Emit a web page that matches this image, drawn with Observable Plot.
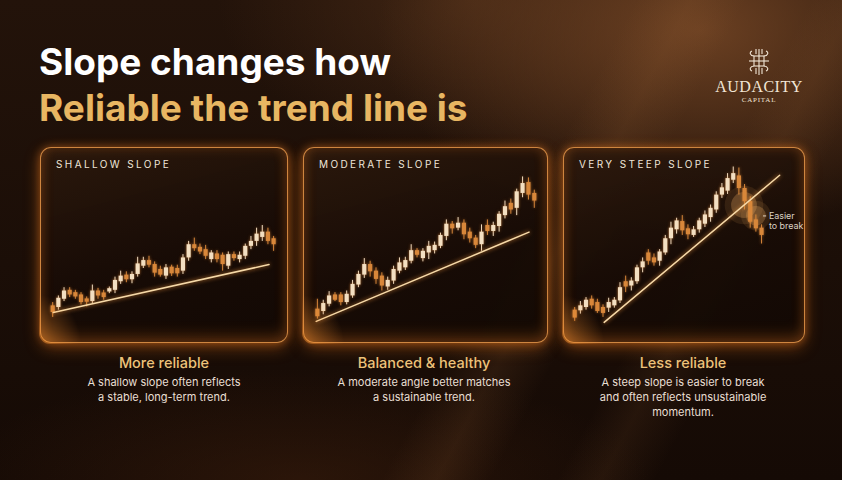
<!DOCTYPE html>
<html><head><meta charset="utf-8">
<script src="https://cdn.jsdelivr.net/npm/d3@7"></script>
<script src="https://cdn.jsdelivr.net/npm/@observablehq/plot@0.6"></script>
<style>
html,body{margin:0;padding:0;background:#1a0e07;}
#root{position:relative;width:842px;height:480px;overflow:hidden;font-family:Inter,"Open Sans",sans-serif;
background:
 linear-gradient(118deg, rgba(0,0,0,0) 58%, rgba(150,95,50,0.16) 63%, rgba(0,0,0,0) 68%, rgba(0,0,0,0) 74%, rgba(150,95,50,0.12) 78%, rgba(0,0,0,0) 83%),
 radial-gradient(ellipse 430px 270px at 700px 30px, rgba(120,72,38,0.85), rgba(120,72,38,0) 75%),
 radial-gradient(ellipse 360px 220px at 470px 0px, rgba(85,50,26,0.6), rgba(0,0,0,0) 70%),
 radial-gradient(ellipse 500px 160px at 300px 480px, rgba(70,35,14,0.45), rgba(0,0,0,0) 70%),
 linear-gradient(180deg,#23130a 0%, #1b0e07 55%, #150a05 100%);}
.title{position:absolute;left:39px;font-weight:700;font-size:37px;line-height:40px;letter-spacing:0px;white-space:nowrap;}
.panel{position:absolute;top:147px;height:196px;box-sizing:border-box;border:1.5px solid rgba(226,146,70,0.9);border-radius:11px;
 background:linear-gradient(165deg, rgba(44,25,13,0.92) 0%, rgba(24,12,6,0.95) 55%, rgba(18,9,4,0.95) 100%);
 box-shadow:0 0 9px rgba(235,125,35,0.45), 0 5px 16px rgba(240,120,25,0.38), inset 0 0 12px rgba(235,125,35,0.22), inset 0 -8px 14px rgba(235,125,35,0.2);}
.panel::after{content:"";position:absolute;left:-2px;bottom:-2px;width:70px;height:80px;border-radius:0 0 0 11px;
 background:radial-gradient(ellipse 60px 70px at 0px 80px, rgba(255,150,50,0.5), rgba(255,150,50,0) 70%);pointer-events:none;}
.panel svg{position:absolute;left:-1.5px;top:-1.5px;}
.plabel{position:absolute;left:15px;top:10px;font-size:10px;letter-spacing:2.4px;color:#efe5d8;z-index:2;white-space:nowrap;}
.cap{position:absolute;top:354px;width:270px;text-align:center;}
.cap .h{font-size:14.5px;line-height:17px;font-weight:500;color:#edc27a;}
.cap .b{margin-top:4px;font-size:11px;line-height:15px;color:#e9dfd3;}
.logo{position:absolute;left:699px;top:47px;width:120px;text-align:center;color:#f1e5d5;font-family:"Liberation Serif","DejaVu Serif",serif;}
.logo .n{font-size:16px;letter-spacing:0.5px;line-height:17px;}
.logo .c{font-size:7px;letter-spacing:0.8px;line-height:10px;}
g[aria-label="line"] path{filter:drop-shadow(0 0 2px rgba(240,150,60,0.9));}
g[aria-label="rule"] line{filter:drop-shadow(0 0 1.5px rgba(230,140,60,0.6));}
</style></head>
<body><div id="root"></div>
<script>
// ---- data ----
const titleLines = ["Slope changes how", "Reliable the trend line is"];
const panelTitles = ["SHALLOW SLOPE", "MODERATE SLOPE", "VERY STEEP SLOPE"];
const captionHeads = ["More reliable", "Balanced & healthy", "Less reliable"];
const captionBodies = [
  ["A shallow slope often reflects", "a stable, long-term trend."],
  ["A moderate angle better matches", "a sustainable trend."],
  ["A steep slope is easier to break", "and often reflects unsustainable", "momentum."]
];
// candles: [open, close, high, low]
const shallowCandles = [
 [115,95,125,80],[110,138,145,102],[135,160,170,128],[162,148,170,140],[155,142,162,135],
 [148,125,155,118],[136,126,142,112],[128,160,178,122],[160,145,168,135],[154,140,162,132],
 [157,167,172,152],[162,192,202,152],[188,205,220,180],[208,194,218,185],[194,210,218,182],
 [210,242,262,202],[235,252,262,228],[252,238,265,230],[240,214,248,202],[225,208,235,202],
 [205,230,240,195],[232,212,238,204],[228,212,238,202],[220,260,270,210],[260,300,310,250],
 [300,288,320,280],[292,278,302,270],[285,265,298,255],[255,275,282,245],[272,255,282,245],
 [268,240,275,220],[235,270,278,225],[270,258,278,250],[255,268,278,245],[265,295,302,255],
 [295,310,325,285],[310,332,350,295],[322,338,358,310],[338,310,350,300],[318,300,325,280]
];
const moderateCandles = [
 [105,82,135,75],[98,122,132,88],[120,145,158,112],[148,132,155,128],[148,125,155,115],
 [125,150,160,118],[145,180,192,138],[178,210,220,170],[208,240,258,198],[240,218,250,202],
 [220,195,230,180],[205,175,215,160],[172,192,202,162],[190,225,235,180],[220,245,260,212],
 [230,252,262,222],[250,282,300,242],[282,268,288,260],[258,280,288,248],[275,295,310,255],
 [282,298,308,272],[295,328,335,288],[325,362,375,312],[362,348,370,332],[350,365,382,342],
 [365,330,375,315],[338,318,350,305],[320,298,328,288],[300,338,360,280],[358,340,375,328],
 [340,358,368,325],[355,392,400,338],[388,415,432,378],[425,405,438,392],[410,460,468,388],
 [455,485,505,442],[488,450,502,435],[455,432,465,410]
];
const steepCandles = [
 [102,78,110,68],[100,115,128,90],[110,132,140,102],[135,115,145,105],[125,98,135,92],
 [110,92,118,80],[108,125,138,95],[115,132,140,108],[130,170,185,122],[188,172,205,155],
 [175,190,200,160],[188,230,238,180],[230,248,260,215],[275,250,285,238],[260,245,272,235],
 [250,278,285,235],[275,318,328,268],[318,350,368,300],[345,372,380,332],[370,342,388,328],
 [348,330,360,315],[328,345,355,322],[345,372,380,335],[362,390,402,352],[382,410,420,368],
 [405,450,460,395],[450,472,485,440],[462,500,515,452],[495,515,535,485],[508,470,532,450],
 [470,430,482,405],[430,368,445,350],[375,348,390,338],[350,328,360,302]
];
// trend lines: [candle index, price]
const shallowTrend = [[0.1,95],[38.2,240]];
const moderateTrend = [[-0.2,68],[36.1,338]];
const steepTrend = [[5.2,65],[36.2,510]];
// break highlight on steep panel: [index, price, radius]
const breakZones = [[29.9,420,13],[32.0,388,10]];
const breakNote = [[34.3,387,"Easier"],[34.3,357,"to break"]];
const breakDash = [[33.35,33.9,387]];

// ---- layout ----
const UP = "#f3dfc2", DOWN = "#d8873a";
const panels = [
  {left:40, width:248, ml:12.3, mr:13, candles:shallowCandles, trend:shallowTrend, cx:164},
  {left:303, width:245, ml:14, mr:12.3, candles:moderateCandles, trend:moderateTrend, cx:424},
  {left:563, width:242, ml:11.3, mr:42.3, candles:steepCandles, trend:steepTrend, cx:683, brk:true}
];
const root = document.getElementById("root");
titleLines.forEach((t,k)=>{
  const d=document.createElement("div"); d.className="title";
  d.style.top=(k?88:42)+"px"; d.style.color=k?"#e8b662":"#ffffff"; d.textContent=t; root.appendChild(d);
});
const logo=document.createElement("div"); logo.className="logo";
logo.innerHTML=`<svg width="28" height="30" viewBox="0 0 26 30" style="display:block;margin:0 auto 1px auto">
<g fill="none" stroke="#f1e5d5" stroke-width="1.1">
<rect x="8" y="9" width="10" height="10"/><line x1="13" y1="2" x2="13" y2="28"/><line x1="3" y1="14" x2="23" y2="14"/>
<path d="M8 9 C4 9 3 5 6 4 M18 9 C22 9 23 5 20 4 M8 19 C4 19 3 23 6 24 M18 19 C22 19 23 23 20 24"/>
<path d="M10 2 L10 7 M16 2 L16 7 M10 21 L10 27 M16 21 L16 27"/></g></svg>
<div class="n">AUDACITY</div><div class="c">CAPITAL</div>`;
root.appendChild(logo);

panels.forEach((p,k)=>{
  const box=document.createElement("div"); box.className="panel";
  box.style.left=p.left+"px"; box.style.width=p.width+"px";
  const lab=document.createElement("div"); lab.className="plabel"; lab.textContent=panelTitles[k]; box.appendChild(lab);
  const data=p.candles.map(([o,c,h,l],i)=>({i,o,c,h,l,col:c>=o?UP:DOWN}));
  const tr=p.trend.map(([i,v])=>({i,v}));
  const marks=[];
  if(p.brk){
    const z=breakZones.map(([i,v,r])=>({i,v,r}));
    marks.push(Plot.dot(z,{x:"i",y:"v",r:d=>d.r*1.5,fill:"#e29a50",fillOpacity:0.12,stroke:null}));
    marks.push(Plot.dot(z,{x:"i",y:"v",r:"r",fill:"#eaa862",fillOpacity:0.28,stroke:null}));
  }
  marks.push(
    Plot.ruleX(data,{x:"i",y1:"l",y2:"h",stroke:"col",strokeWidth:1}),
    Plot.ruleX(data,{x:"i",y1:"o",y2:"c",stroke:"col",strokeWidth:4.2}),
    Plot.line(tr,{x:"i",y:"v",stroke:"#f6d9a8",strokeWidth:1.5})
  );
  if(p.brk){
    marks.push(Plot.ruleY(breakDash.map(([a,b,v])=>({a,b,v})),{y:"v",x1:"a",x2:"b",stroke:"#ddd2c4",strokeWidth:1}));
    marks.push(Plot.text(breakNote.map(([i,v,t])=>({i,v,t})),{x:"i",y:"v",text:"t",textAnchor:"start",fill:"#ddd2c4",fontSize:9,fontFamily:"Inter, sans-serif"}));
  }
  const chart=Plot.plot({
    width:p.width, height:196, marginLeft:p.ml, marginRight:p.mr, marginTop:0, marginBottom:0,
    x:{domain:[0,p.candles.length-1], axis:null},
    y:{domain:[6,594], axis:null},
    r:{type:"identity"}, color:{type:"identity"},
    style:{background:"transparent", overflow:"visible"},
    marks
  });
  box.appendChild(chart);
  root.appendChild(box);
  const cap=document.createElement("div"); cap.className="cap"; cap.style.left=(p.cx-135)+"px";
  cap.innerHTML=`<div class="h">${captionHeads[k].replace("&","&amp;")}</div><div class="b">${captionBodies[k].join("<br>")}</div>`;
  root.appendChild(cap);
});
</script></body></html>
